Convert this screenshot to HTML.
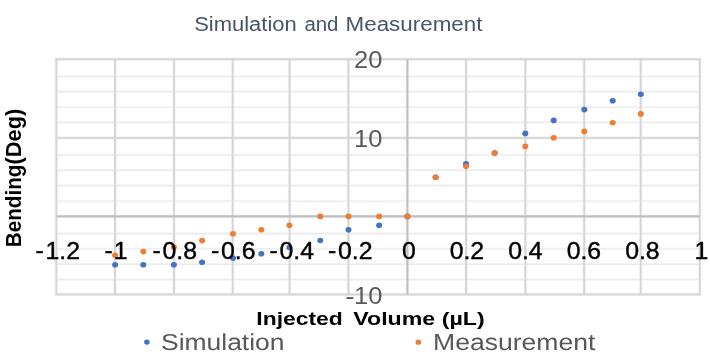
<!DOCTYPE html>
<html><head><meta charset="utf-8"><title>Simulation and Measurement</title>
<style>html,body{margin:0;padding:0;background:#fff;}body{width:710px;height:358px;overflow:hidden;}svg{display:block;}text{font-family:"Liberation Sans",sans-serif;}</style></head><body>
<svg width="710" height="358" viewBox="0 0 710 358">
<rect x="0" y="0" width="710" height="358" fill="#ffffff"/>
<defs><filter id="bt" x="0" y="0" width="710" height="358" filterUnits="userSpaceOnUse"><feGaussianBlur stdDeviation="0.35"/></filter></defs>
<g>
<g stroke="#F6F6F6" stroke-width="3.6">
<line x1="54.6" y1="59.3" x2="701.4" y2="59.3"/>
<line x1="54.6" y1="137.9" x2="701.4" y2="137.9"/>
<line x1="54.6" y1="216.4" x2="701.4" y2="216.4"/>
<line x1="54.6" y1="294.5" x2="701.4" y2="294.5"/>
<line x1="56.3" y1="58.1" x2="56.3" y2="295.7"/>
<line x1="115.0" y1="58.1" x2="115.0" y2="295.7"/>
<line x1="174.0" y1="58.1" x2="174.0" y2="295.7"/>
<line x1="232.7" y1="58.1" x2="232.7" y2="295.7"/>
<line x1="289.6" y1="58.1" x2="289.6" y2="295.7"/>
<line x1="348.4" y1="58.1" x2="348.4" y2="295.7"/>
<line x1="407.4" y1="58.1" x2="407.4" y2="295.7"/>
<line x1="466.1" y1="58.1" x2="466.1" y2="295.7"/>
<line x1="525.4" y1="58.1" x2="525.4" y2="295.7"/>
<line x1="584.2" y1="58.1" x2="584.2" y2="295.7"/>
<line x1="640.7" y1="58.1" x2="640.7" y2="295.7"/>
<line x1="699.8" y1="58.1" x2="699.8" y2="295.7"/>
</g>
<g stroke="#FAFAFA" stroke-width="2.8">
<line x1="56.2" y1="76.4" x2="699.8" y2="76.4"/>
<line x1="56.2" y1="91.7" x2="699.8" y2="91.7"/>
<line x1="56.2" y1="107.1" x2="699.8" y2="107.1"/>
<line x1="56.2" y1="122.4" x2="699.8" y2="122.4"/>
<line x1="56.2" y1="155.0" x2="699.8" y2="155.0"/>
<line x1="56.2" y1="170.3" x2="699.8" y2="170.3"/>
<line x1="56.2" y1="185.5" x2="699.8" y2="185.5"/>
<line x1="56.2" y1="201.1" x2="699.8" y2="201.1"/>
<line x1="56.2" y1="233.5" x2="699.8" y2="233.5"/>
<line x1="56.2" y1="248.9" x2="699.8" y2="248.9"/>
<line x1="56.2" y1="264.2" x2="699.8" y2="264.2"/>
<line x1="56.2" y1="279.5" x2="699.8" y2="279.5"/>
</g>
<g stroke="#ECECEC" stroke-width="1.4">
<line x1="56.2" y1="76.4" x2="699.8" y2="76.4"/>
<line x1="56.2" y1="91.7" x2="699.8" y2="91.7"/>
<line x1="56.2" y1="107.1" x2="699.8" y2="107.1"/>
<line x1="56.2" y1="122.4" x2="699.8" y2="122.4"/>
<line x1="56.2" y1="155.0" x2="699.8" y2="155.0"/>
<line x1="56.2" y1="170.3" x2="699.8" y2="170.3"/>
<line x1="56.2" y1="185.5" x2="699.8" y2="185.5"/>
<line x1="56.2" y1="201.1" x2="699.8" y2="201.1"/>
<line x1="56.2" y1="233.5" x2="699.8" y2="233.5"/>
<line x1="56.2" y1="248.9" x2="699.8" y2="248.9"/>
<line x1="56.2" y1="264.2" x2="699.8" y2="264.2"/>
<line x1="56.2" y1="279.5" x2="699.8" y2="279.5"/>
</g>
<g stroke="#D5D5D5" stroke-width="1.9">
<line x1="55.4" y1="59.3" x2="700.6" y2="59.3"/>
<line x1="55.4" y1="137.9" x2="700.6" y2="137.9"/>
<line x1="55.4" y1="294.5" x2="700.6" y2="294.5"/>
<line x1="56.3" y1="59.3" x2="56.3" y2="294.5"/>
<line x1="115.0" y1="59.3" x2="115.0" y2="294.5"/>
<line x1="174.0" y1="59.3" x2="174.0" y2="294.5"/>
<line x1="232.7" y1="59.3" x2="232.7" y2="294.5"/>
<line x1="289.6" y1="59.3" x2="289.6" y2="294.5"/>
<line x1="348.4" y1="59.3" x2="348.4" y2="294.5"/>
<line x1="466.1" y1="59.3" x2="466.1" y2="294.5"/>
<line x1="525.4" y1="59.3" x2="525.4" y2="294.5"/>
<line x1="584.2" y1="59.3" x2="584.2" y2="294.5"/>
<line x1="640.7" y1="59.3" x2="640.7" y2="294.5"/>
<line x1="699.8" y1="59.3" x2="699.8" y2="294.5"/>
</g>
<g stroke="#BFBFBF" stroke-width="2.1">
<line x1="56.2" y1="216.4" x2="699.8" y2="216.4"/>
<line x1="407.4" y1="59.3" x2="407.4" y2="294.5"/>
</g>
</g>
<g filter="url(#bt)">
<g fill="#4472C4">
<ellipse cx="115.1" cy="264.7" rx="3.0" ry="2.8"/>
<ellipse cx="143.3" cy="264.7" rx="3.0" ry="2.8"/>
<ellipse cx="173.9" cy="264.7" rx="3.0" ry="2.8"/>
<ellipse cx="202.1" cy="262.2" rx="3.0" ry="2.8"/>
<ellipse cx="233.0" cy="258.1" rx="3.0" ry="2.8"/>
<ellipse cx="261.3" cy="253.8" rx="3.0" ry="2.8"/>
<ellipse cx="289.4" cy="247.5" rx="3.0" ry="2.8"/>
<ellipse cx="320.3" cy="240.5" rx="3.0" ry="2.8"/>
<ellipse cx="348.5" cy="229.7" rx="3.0" ry="2.8"/>
<ellipse cx="379.1" cy="225.2" rx="3.0" ry="2.8"/>
<ellipse cx="407.4" cy="216.4" rx="3.0" ry="2.8"/>
<ellipse cx="435.6" cy="177.2" rx="3.0" ry="2.8"/>
<ellipse cx="466.0" cy="163.7" rx="3.0" ry="2.8"/>
<ellipse cx="494.6" cy="153.1" rx="3.0" ry="2.8"/>
<ellipse cx="525.3" cy="133.4" rx="3.0" ry="2.8"/>
<ellipse cx="553.7" cy="120.4" rx="3.0" ry="2.8"/>
<ellipse cx="584.3" cy="109.6" rx="3.0" ry="2.8"/>
<ellipse cx="612.7" cy="100.8" rx="3.0" ry="2.8"/>
<ellipse cx="640.8" cy="94.2" rx="3.0" ry="2.8"/>
</g>
<g fill="#ED7D31">
<ellipse cx="115.1" cy="255.2" rx="3.0" ry="2.8"/>
<ellipse cx="143.3" cy="251.6" rx="3.0" ry="2.8"/>
<ellipse cx="173.9" cy="247.1" rx="3.0" ry="2.8"/>
<ellipse cx="202.1" cy="240.6" rx="3.0" ry="2.8"/>
<ellipse cx="233.0" cy="233.8" rx="3.0" ry="2.8"/>
<ellipse cx="261.3" cy="229.7" rx="3.0" ry="2.8"/>
<ellipse cx="289.4" cy="225.2" rx="3.0" ry="2.8"/>
<ellipse cx="320.3" cy="216.4" rx="3.0" ry="2.8"/>
<ellipse cx="348.5" cy="216.4" rx="3.0" ry="2.8"/>
<ellipse cx="379.1" cy="216.4" rx="3.0" ry="2.8"/>
<ellipse cx="407.4" cy="216.4" rx="3.0" ry="2.8"/>
<ellipse cx="435.6" cy="177.2" rx="3.0" ry="2.8"/>
<ellipse cx="466.0" cy="166.2" rx="3.0" ry="2.8"/>
<ellipse cx="494.6" cy="153.1" rx="3.0" ry="2.8"/>
<ellipse cx="525.3" cy="146.4" rx="3.0" ry="2.8"/>
<ellipse cx="553.7" cy="137.7" rx="3.0" ry="2.8"/>
<ellipse cx="584.3" cy="131.4" rx="3.0" ry="2.8"/>
<ellipse cx="612.7" cy="122.7" rx="3.0" ry="2.8"/>
<ellipse cx="640.8" cy="113.9" rx="3.0" ry="2.8"/>
</g>
<text x="35.6" y="258.0" font-size="23.0" text-anchor="start" fill="#000" font-weight="normal" textLength="8.3" lengthAdjust="spacingAndGlyphs" stroke="#000" stroke-width="0.4">-</text>
<text x="45.5" y="259.0" font-size="23.0" text-anchor="start" fill="#000" font-weight="normal" textLength="34.5" lengthAdjust="spacingAndGlyphs" stroke="#000" stroke-width="0.4">1.2</text>
<text x="104.4" y="258.0" font-size="23.0" text-anchor="start" fill="#000" font-weight="normal" textLength="8.3" lengthAdjust="spacingAndGlyphs" stroke="#000" stroke-width="0.4">-</text>
<text x="113.7" y="259.0" font-size="23.0" text-anchor="start" fill="#000" font-weight="normal" textLength="13.8" lengthAdjust="spacingAndGlyphs" stroke="#000" stroke-width="0.4">1</text>
<text x="152.6" y="258.0" font-size="23.0" text-anchor="start" fill="#000" font-weight="normal" textLength="8.3" lengthAdjust="spacingAndGlyphs" stroke="#000" stroke-width="0.4">-</text>
<text x="162.5" y="259.0" font-size="23.0" text-anchor="start" fill="#000" font-weight="normal" textLength="34.5" lengthAdjust="spacingAndGlyphs" stroke="#000" stroke-width="0.4">0.8</text>
<text x="211.1" y="258.0" font-size="23.0" text-anchor="start" fill="#000" font-weight="normal" textLength="8.3" lengthAdjust="spacingAndGlyphs" stroke="#000" stroke-width="0.4">-</text>
<text x="221.0" y="259.0" font-size="23.0" text-anchor="start" fill="#000" font-weight="normal" textLength="34.5" lengthAdjust="spacingAndGlyphs" stroke="#000" stroke-width="0.4">0.6</text>
<text x="269.6" y="258.0" font-size="23.0" text-anchor="start" fill="#000" font-weight="normal" textLength="8.3" lengthAdjust="spacingAndGlyphs" stroke="#000" stroke-width="0.4">-</text>
<text x="279.5" y="259.0" font-size="23.0" text-anchor="start" fill="#000" font-weight="normal" textLength="34.5" lengthAdjust="spacingAndGlyphs" stroke="#000" stroke-width="0.4">0.4</text>
<text x="328.1" y="258.0" font-size="23.0" text-anchor="start" fill="#000" font-weight="normal" textLength="8.3" lengthAdjust="spacingAndGlyphs" stroke="#000" stroke-width="0.4">-</text>
<text x="338.0" y="259.0" font-size="23.0" text-anchor="start" fill="#000" font-weight="normal" textLength="34.5" lengthAdjust="spacingAndGlyphs" stroke="#000" stroke-width="0.4">0.2</text>
<text x="408.8" y="259.0" font-size="23.0" text-anchor="middle" fill="#000" font-weight="normal" textLength="13.8" lengthAdjust="spacingAndGlyphs" stroke="#000" stroke-width="0.4">0</text>
<text x="466.9" y="259.0" font-size="23.0" text-anchor="middle" fill="#000" font-weight="normal" textLength="34.5" lengthAdjust="spacingAndGlyphs" stroke="#000" stroke-width="0.4">0.2</text>
<text x="525.4" y="259.0" font-size="23.0" text-anchor="middle" fill="#000" font-weight="normal" textLength="34.5" lengthAdjust="spacingAndGlyphs" stroke="#000" stroke-width="0.4">0.4</text>
<text x="583.9" y="259.0" font-size="23.0" text-anchor="middle" fill="#000" font-weight="normal" textLength="34.5" lengthAdjust="spacingAndGlyphs" stroke="#000" stroke-width="0.4">0.6</text>
<text x="642.4" y="259.0" font-size="23.0" text-anchor="middle" fill="#000" font-weight="normal" textLength="34.5" lengthAdjust="spacingAndGlyphs" stroke="#000" stroke-width="0.4">0.8</text>
<text x="701.3" y="259.0" font-size="23.0" text-anchor="middle" fill="#000" font-weight="normal" textLength="13.8" lengthAdjust="spacingAndGlyphs" stroke="#000" stroke-width="0.4">1</text>
<text x="382.5" y="68.0" font-size="23.0" text-anchor="end" fill="#595959" font-weight="normal" textLength="28.4" lengthAdjust="spacingAndGlyphs" >20</text>
<text x="382.5" y="147.0" font-size="23.0" text-anchor="end" fill="#595959" font-weight="normal" textLength="28.4" lengthAdjust="spacingAndGlyphs" >10</text>
<text x="345.3" y="304.0" font-size="23.0" text-anchor="start" fill="#595959" font-weight="normal" textLength="9.3" lengthAdjust="spacingAndGlyphs" >-</text>
<text x="382.5" y="304.0" font-size="23.0" text-anchor="end" fill="#595959" font-weight="normal" textLength="28.4" lengthAdjust="spacingAndGlyphs" >10</text>
<text x="194.2" y="30.9" font-size="19.5" text-anchor="start" fill="#44546A" font-weight="normal" textLength="102.5" lengthAdjust="spacingAndGlyphs" >Simulation</text>
<text x="304.4" y="30.9" font-size="19.5" text-anchor="start" fill="#44546A" font-weight="normal" textLength="34" lengthAdjust="spacingAndGlyphs" >and</text>
<text x="345.6" y="30.9" font-size="19.5" text-anchor="start" fill="#44546A" font-weight="normal" textLength="136.8" lengthAdjust="spacingAndGlyphs" >Measurement</text>
<text x="256.3" y="324.9" font-size="19" text-anchor="start" fill="#000" font-weight="bold" textLength="86.5" lengthAdjust="spacingAndGlyphs" >Injected</text>
<text x="353.3" y="324.9" font-size="19" text-anchor="start" fill="#000" font-weight="bold" textLength="131.3" lengthAdjust="spacingAndGlyphs" >Volume (µL)</text>
<text x="0" y="0" font-size="21.2" text-anchor="start" fill="#000" font-weight="bold" textLength="82.8" lengthAdjust="spacingAndGlyphs" transform="translate(21.2,247.3) rotate(-90)">Bending</text>
<text x="0" y="0" font-size="21.2" text-anchor="start" fill="#000" font-weight="bold" textLength="55.6" lengthAdjust="spacingAndGlyphs" transform="translate(21.2,164.4) rotate(-90)">(Deg)</text>
<ellipse cx="146.9" cy="342.1" rx="2.8" ry="2.6" fill="#4472C4"/>
<text x="161" y="349.8" font-size="23.1" text-anchor="start" fill="#595959" font-weight="normal" textLength="123.5" lengthAdjust="spacingAndGlyphs" text-rendering="geometricPrecision">Simulation</text>
<ellipse cx="418.3" cy="342.2" rx="2.8" ry="2.6" fill="#ED7D31"/>
<text x="433" y="349.8" font-size="23.1" text-anchor="start" fill="#595959" font-weight="normal" textLength="162.4" lengthAdjust="spacingAndGlyphs" text-rendering="geometricPrecision">Measurement</text>
</g>
</svg></body></html>
